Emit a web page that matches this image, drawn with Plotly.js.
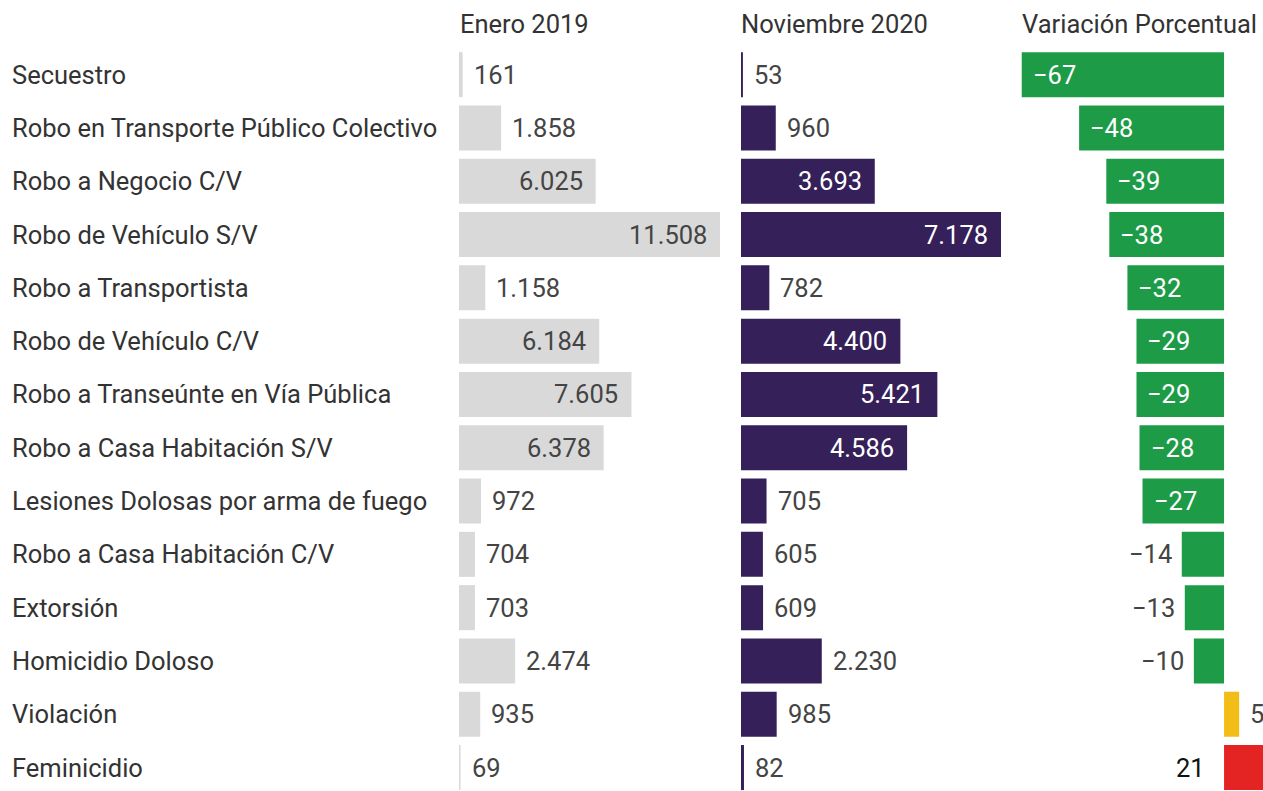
<!DOCTYPE html>
<html>
<head>
<meta charset="utf-8">
<script src="https://cdn.plot.ly/plotly-3.0.1.min.js"></script>
<style>html,body{margin:0;padding:0;background:#fff;}#chart{width:1263px;height:791px;}</style>
</head>
<body>
<div id="chart"></div>
<script>
const categories = [
  "Secuestro",
  "Robo en Transporte Público Colectivo",
  "Robo a Negocio C/V",
  "Robo de Vehículo S/V",
  "Robo a Transportista",
  "Robo de Vehículo C/V",
  "Robo a Transeúnte en Vía Pública",
  "Robo a Casa Habitación S/V",
  "Lesiones Dolosas por arma de fuego",
  "Robo a Casa Habitación C/V",
  "Extorsión",
  "Homicidio Doloso",
  "Violación",
  "Feminicidio"
];
const enero2019 = [161, 1858, 6025, 11508, 1158, 6184, 7605, 6378, 972, 704, 703, 2474, 935, 69];
const noviembre2020 = [53, 960, 3693, 7178, 782, 4400, 5421, 4586, 705, 605, 609, 2230, 985, 82];
const variacion = [-67, -48, -39, -38, -32, -29, -29, -28, -27, -14, -13, -10, 5, 21];
const headers = ["Enero 2019", "Noviembre 2020", "Variación Porcentual"];

const W = 1263, H = 791;
const FONT = "Roboto, 'Noto Sans', sans-serif";
const FS = 25.5;
const TXT = "#333333";
const GRAY = "#d9d9d9", PURPLE = "#35205a", GREEN = "#1e9b47", YELLOW = "#f3bd18", RED = "#e42423";

function fmt(v) {
  const s = String(Math.abs(v)).replace(/\B(?=(\d{3})+(?!\d))/g, ".");
  return (v < 0 ? "\u2212" : "") + s;
}

const x1Range = [0, 11508], x2Range = [0, 7178], x3Range = [-74.2, 12.9];

const traces = [
  {type: "bar", orientation: "h", x: enero2019, y: categories, xaxis: "x", yaxis: "y",
   marker: {color: GRAY, line: {width: 0}}, hoverinfo: "none"},
  {type: "bar", orientation: "h", x: noviembre2020, y: categories, xaxis: "x2", yaxis: "y",
   marker: {color: PURPLE, line: {width: 0}}, hoverinfo: "none"},
  {type: "bar", orientation: "h", x: variacion, y: categories, xaxis: "x3", yaxis: "y",
   marker: {color: variacion.map(v => v < 0 ? GREEN : (v < 10 ? YELLOW : RED)), line: {width: 0}},
   hoverinfo: "none", cliponaxis: true}
];

const ann = [];
// category labels
categories.forEach((c, i) => {
  ann.push({xref: "paper", yref: "y", x: 10 / W, y: c, xanchor: "left", yanchor: "middle",
    text: c, showarrow: false, font: {family: FONT, size: FS, color: TXT}});
});
// headers
const hx = [458, 739, 1020];
headers.forEach((h, i) => {
  ann.push({xref: "paper", yref: "paper", x: hx[i] / W, y: 1 - 24 / H, xanchor: "left", yanchor: "middle",
    text: h, showarrow: false, font: {family: FONT, size: FS, color: TXT}});
});
// panel 1 values
enero2019.forEach((v, i) => {
  const inside = v > 5000;
  ann.push({xref: "x", yref: "y", x: v, y: categories[i], showarrow: false,
    xanchor: inside ? "right" : "left", xshift: inside ? -11 : 9, yanchor: "middle",
    text: fmt(v), font: {family: FONT, size: FS, color: "#444444"}});
});
// panel 2 values
noviembre2020.forEach((v, i) => {
  const inside = v > 3000;
  ann.push({xref: "x2", yref: "y", x: v, y: categories[i], showarrow: false,
    xanchor: inside ? "right" : "left", xshift: inside ? -11 : 9, yanchor: "middle",
    text: fmt(v), font: {family: FONT, size: FS, color: inside ? "#ffffff" : "#444444"}});
});
// panel 3 values
variacion.forEach((v, i) => {
  let a = {xref: "x3", yref: "y", x: v, y: categories[i], showarrow: false, yanchor: "middle",
    text: fmt(v), font: {family: FONT, size: FS, color: "#444444"}};
  if (v <= -20) { a.xanchor = "left"; a.xshift = 9; a.font.color = "#ffffff"; }
  else if (v < 0) { a.xanchor = "right"; a.xshift = -8; }
  else if (v > x3Range[1]) { a.x = 0; a.xanchor = "right"; a.xshift = -17; a.font.color = "#111111"; }
  else { a.xanchor = "left"; a.xshift = 9; }
  ann.push(a);
});

const hidden = {visible: false, fixedrange: true, showgrid: false, zeroline: false};
const layout = {
  width: W, height: H,
  margin: {l: 0, r: 0, t: 0, b: 0, pad: 0},
  paper_bgcolor: "#ffffff", plot_bgcolor: "rgba(0,0,0,0)",
  showlegend: false,
  barmode: "overlay",
  bargap: 0.155,
  font: {family: FONT, size: FS, color: TXT},
  xaxis: Object.assign({domain: [459 / W, 720 / W], range: x1Range}, hidden),
  xaxis2: Object.assign({domain: [741 / W, 1001 / W], range: x2Range}, hidden),
  xaxis3: Object.assign({domain: [1000 / W, 1], range: x3Range}, hidden),
  yaxis: Object.assign({domain: [0, 1 - 48 / H], type: "category", categoryarray: categories,
    range: [13.44, -0.5]}, hidden),
  annotations: ann
};

Plotly.newPlot("chart", traces, layout, {staticPlot: true, displayModeBar: false});
</script>
</body>
</html>
